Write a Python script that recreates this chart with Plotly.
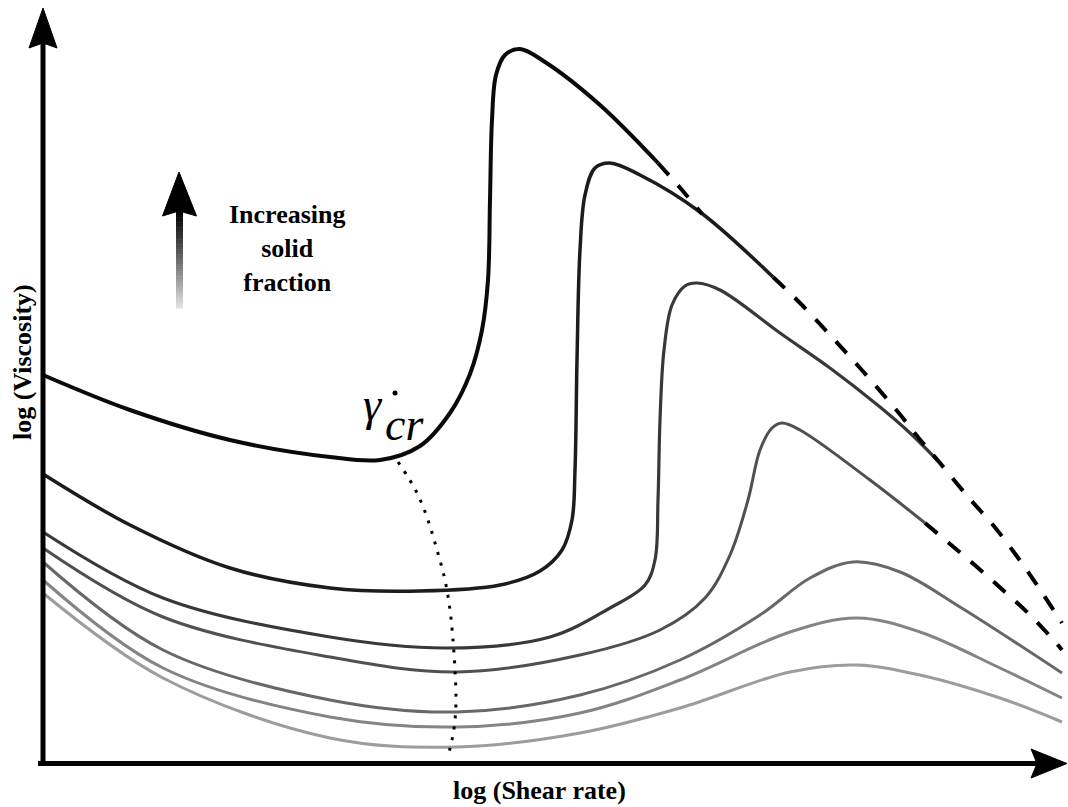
import plotly.graph_objects as go

# Schematic coordinates (x: log shear rate units, y: log viscosity units, screen-like, y grows downward)
c1_x = [43, 130, 230, 330, 380, 420, 450, 470, 482, 488, 490, 492, 496, 505, 520, 545, 600, 658]
c1_y = [375, 410, 440, 457, 460, 446, 413, 374, 330, 280, 200, 120, 75, 55, 49, 62, 105, 163]

c2_x = [43, 130, 230, 330, 420, 500, 540, 562, 572, 575, 577, 580, 585, 595, 610, 640, 700, 773]
c2_y = [474, 525, 568, 588, 591, 585, 571, 550, 520, 470, 360, 250, 195, 168, 163, 175, 212, 277]

c3_x = [43, 163, 330, 447, 550, 610, 645, 655, 658, 660, 664, 672, 685, 697, 720, 780, 830, 880, 910, 940]
c3_y = [532, 598, 637, 648, 637, 608, 585, 560, 500, 420, 350, 305, 286, 283, 290, 333, 368, 407, 433, 463]

c4_x = [43, 163, 330, 457, 580, 660, 705, 730, 748, 760, 772, 782, 800, 870, 925]
c4_y = [548, 617, 657, 672, 655, 630, 598, 555, 500, 450, 428, 423, 430, 480, 523]

c5_x = [43, 163, 330, 457, 580, 680, 760, 810, 853, 900, 960, 1062]
c5_y = [562, 650, 700, 712, 695, 660, 615, 578, 562, 572, 607, 673]

c6_x = [43, 163, 330, 457, 580, 680, 790, 857, 920, 1000, 1062]
c6_y = [580, 668, 717, 727, 713, 680, 632, 618, 632, 668, 698]

c7_x = [43, 163, 330, 457, 580, 680, 790, 857, 920, 1000, 1062]
c7_y = [593, 678, 738, 747, 733, 708, 672, 665, 675, 698, 722]

curves_x = [c1_x, c2_x, c3_x, c4_x, c5_x, c6_x, c7_x]
curves_y = [c1_y, c2_y, c3_y, c4_y, c5_y, c6_y, c7_y]
curve_colors = ["#0a0a0a", "#1c1c1c", "#383838", "#505050", "#686868", "#848484", "#9c9c9c"]
curve_widths = [4, 3.5, 3.2, 3, 3, 3, 3]

# dashed extrapolations
d1_x = [658, 682, 702]
d1_y = [163, 190, 214]
d2_x = [773, 800, 830, 860, 898, 922, 940, 969, 993, 1016, 1037, 1062]
d2_y = [277, 303, 335, 368, 412, 442, 463, 498, 525, 555, 585, 623]
d4_x = [925, 950, 977, 1005, 1031, 1057, 1062]
d4_y = [523, 544, 567, 592, 616, 644, 650]

# critical shear rate locus (dotted)
g_x = [398, 408, 418, 428, 437, 445, 450, 453, 455, 456, 455, 452, 448]
g_y = [462, 477, 495, 520, 550, 580, 610, 640, 670, 700, 720, 740, 756]

fig = go.Figure()

for xs, ys, col, w in zip(curves_x, curves_y, curve_colors, curve_widths):
    fig.add_trace(go.Scatter(x=xs, y=ys, mode="lines",
                             line=dict(color=col, width=w, shape="spline", smoothing=1.0),
                             hoverinfo="skip", showlegend=False))

for xs, ys in [(d1_x, d1_y), (d2_x, d2_y), (d4_x, d4_y)]:
    fig.add_trace(go.Scatter(x=xs, y=ys, mode="lines",
                             line=dict(color="#000000", width=4, dash="16px,14px", shape="spline"),
                             hoverinfo="skip", showlegend=False))

fig.add_trace(go.Scatter(x=g_x, y=g_y, mode="lines",
                         line=dict(color="#000000", width=3, dash="3px,8px", shape="spline"),
                         hoverinfo="skip", showlegend=False))

# dot of gamma-dot
fig.add_trace(go.Scatter(x=[395], y=[393], mode="markers",
                         marker=dict(color="#000", size=5), hoverinfo="skip", showlegend=False))

shapes = []
# axes
shapes.append(dict(type="line", x0=43, y0=766, x1=43, y1=40, line=dict(color="#000", width=5)))
shapes.append(dict(type="path", path="M 43,8 L 57,48 L 43,43 L 29,48 Z",
                   fillcolor="#000", line=dict(color="#000", width=1)))
shapes.append(dict(type="line", x0=38, y0=763.5, x1=1040, y1=763.5, line=dict(color="#000", width=5)))
shapes.append(dict(type="path", path="M 1067,763.5 L 1031,749 L 1037,763.5 L 1031,778 Z",
                   fillcolor="#000", line=dict(color="#000", width=1)))

# gradient arrow
top, bot = 210, 308
n = 40
for i in range(n):
    ya = top + (bot - top) * i / n
    yb = top + (bot - top) * (i + 1) / n + 0.5
    t = i / (n - 1)
    v = int(round(0 + 225 * t ** 1.1))
    shapes.append(dict(type="rect", x0=176, x1=183, y0=ya, y1=yb,
                       fillcolor=f"rgb({v},{v},{v})", line=dict(width=0)))
shapes.append(dict(type="path", path="M 179,172 L 196.5,216 L 179,211 L 162.5,216 Z",
                   fillcolor="#000", line=dict(color="#000", width=1)))

annotations = [
    dict(x=539, y=790, text="<b>log (Shear rate)</b>", showarrow=False,
         font=dict(family="Liberation Serif", size=26, color="#000"), xanchor="center", yanchor="middle"),
    dict(x=22, y=362, text="<b>log (Viscosity)</b>", showarrow=False, textangle=-90,
         font=dict(family="Liberation Serif", size=26, color="#000"), xanchor="center", yanchor="middle"),
    dict(x=287, y=248, text="<b>Increasing<br>solid<br>fraction</b>", showarrow=False,
         font=dict(family="Liberation Serif", size=26, color="#000"), xanchor="center", yanchor="middle", align="center"),
    dict(x=373, y=404, text="<i>γ</i>", showarrow=False,
         font=dict(family="Liberation Serif", size=46, color="#000"), xanchor="center", yanchor="middle"),
    dict(x=404, y=424, text="<i>cr</i>", showarrow=False,
         font=dict(family="Liberation Serif", size=46, color="#000"), xanchor="center", yanchor="middle"),
]

fig.update_layout(
    width=1068, height=807, autosize=False,
    margin=dict(l=0, r=0, t=0, b=0),
    paper_bgcolor="white", plot_bgcolor="white",
    xaxis=dict(range=[0, 1068], visible=False, fixedrange=True),
    yaxis=dict(range=[807, 0], visible=False, fixedrange=True),
    shapes=shapes, annotations=annotations, showlegend=False,
)

fig.write_html("out.html")
